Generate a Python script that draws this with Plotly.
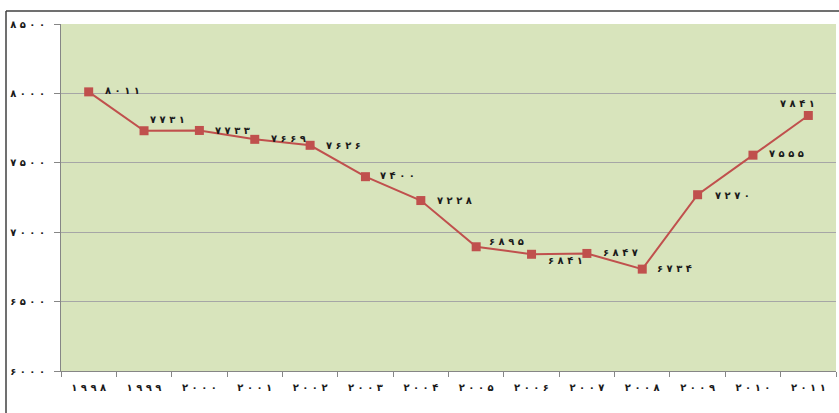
import plotly.graph_objects as go

years = [1998, 1999, 2000, 2001, 2002, 2003, 2004, 2005, 2006, 2007, 2008, 2009, 2010, 2011]
values = [8011, 7731, 7733, 7669, 7626, 7400, 7228, 6895, 6841, 6847, 6734, 7270, 7555, 7841]
y_ticks = [6000, 6500, 7000, 7500, 8000, 8500]

# label placement (pixel offsets from each marker): anchor, dx, dy
label_anchor = ["left"] * 13 + ["center"]
label_dx = [14, 4, 14, 14, 14, 13, 14, 11, 14, 14, 13, 15, 14, -11]
label_dy = [1, 11, 0, 1, 0, 1, 0, 5, -6, 1, 1, -1, 2, 12]

FA = str.maketrans("0123456789", "۰۱۲۳۴۵۶۷۸۹")


def fa(n):
    # Persian digits, spaced out as in the original rendering
    return " ".join(str(n).translate(FA))


x_labels = [fa(y) for y in years]
text_labels = [fa(v) for v in values]

FONT = "DejaVu Sans"
TXT = "#1a1a1a"

fig = go.Figure()
fig.add_trace(go.Scatter(
    x=x_labels, y=values, mode="lines+markers",
    line=dict(color="#C0504D", width=2),
    marker=dict(symbol="square", size=9, color="#C0504D"),
    cliponaxis=False, showlegend=False, hoverinfo="skip",
))

for xl, v, t, a, dx, dy in zip(x_labels, values, text_labels, label_anchor, label_dx, label_dy):
    fig.add_annotation(
        x=xl, y=v, xref="x", yref="y", text=t, showarrow=False,
        xanchor=a, yanchor="middle", xshift=dx, yshift=dy,
        font=dict(family=FONT, size=10, color=TXT, weight="bold"),
    )

W, H = 839, 413
L, R, T, B = 61, 3, 24, 42
pw, ph = W - L - R, H - T - B


def px(x):
    return (x - L) / pw


def py(y):
    return (H - B - y) / ph


fig.update_layout(
    width=W, height=H,
    margin=dict(l=L, r=R, t=T, b=B),
    paper_bgcolor="white",
    plot_bgcolor="#D8E4BC",
    font=dict(family=FONT, size=10, color=TXT),
    xaxis=dict(
        type="category", tickson="boundaries", ticks="outside", ticklen=5,
        tickcolor="#868686", showline=True, linecolor="#868686", linewidth=1,
        showgrid=False, tickfont=dict(family=FONT, size=10, color=TXT, weight="bold"),
        range=[-0.5, 13.5], ticklabelstandoff=7,
    ),
    yaxis=dict(
        range=[6000, 8500], tickvals=y_ticks, ticktext=[fa(v) for v in y_ticks],
        ticks="outside", ticklen=6, tickcolor="#868686",
        showline=True, linecolor="#868686", linewidth=1,
        showgrid=True, gridcolor="#A6A6A6", gridwidth=1,
        zeroline=False, tickfont=dict(family=FONT, size=10, color=TXT, weight="bold"),
        ticklabelstandoff=7,
    ),
    shapes=[
        dict(type="rect", xref="paper", yref="paper", x0=px(-5), x1=px(6), y0=py(430), y1=py(-5),
             fillcolor="white", line=dict(width=0), layer="above"),
        dict(type="line", xref="paper", yref="paper", x0=px(6), x1=px(6), y0=py(11), y1=py(420),
             line=dict(color="#404040", width=1.5), layer="above"),
        dict(type="line", xref="paper", yref="paper", x0=px(6), x1=px(845), y0=py(11), y1=py(11),
             line=dict(color="#404040", width=1.5), layer="above"),
    ],
)

post = "document.body.style.margin = '0';"

fig.write_html("out.html", post_script=post, config={"displayModeBar": False})
